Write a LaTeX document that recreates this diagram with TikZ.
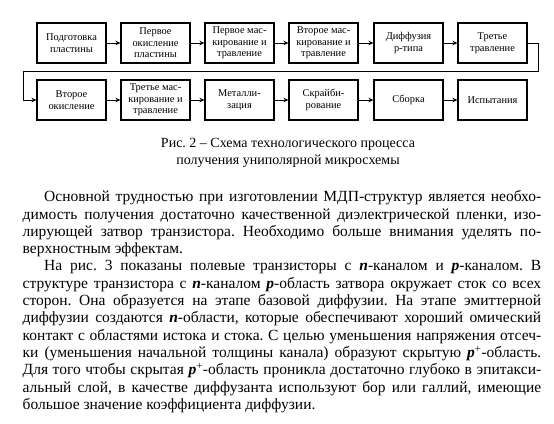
\documentclass[tikz,border=0pt]{standalone}
\usepackage{fontspec}
\setmainfont{Liberation Serif}
\usepackage{tikz}
\usetikzlibrary{arrows.meta}
\frenchspacing
\tikzset{
  stage/.style={draw,line width=1.1pt,minimum width=69pt,minimum height=40pt,
    inner sep=1pt,align=center,font=\fontsize{10.4}{11.5}\selectfont},
  flow/.style={line width=0.9pt,-{Stealth[length=5pt,width=4.5pt]}},
  textline/.style={anchor=base west,inner sep=0pt,font=\fontsize{15.5}{17}\selectfont},
  caption/.style={align=center,inner sep=0pt,font=\fontsize{14}{17.7}\selectfont}
}
\newcommand\fullline[1]{\makebox[518.5pt][s]{#1}}
\newcommand\firstline[1]{\makebox[497pt][s]{#1}}
\newcommand\tvar[1]{\textbf{\textit{#1}}}
\begin{document}
\begin{tikzpicture}[x=1pt,y=-1pt]
\useasboundingbox (0,0) rectangle (554,423);
\node (s1) at (71.5,43) [stage] {Подготовка\\пластины};
\node (s2) at (155.5,43) [stage] {Первое\\окисление\\пластины};
\node (s3) at (239.5,43) [stage] {Первое мас-\\кирование и\\травление};
\node (s4) at (323.5,43) [stage] {Второе мас-\\кирование и\\травление};
\node (s5) at (408.5,43) [stage] {Диффузия\\p-типа};
\node (s6) at (492.5,43) [stage] {Третье\\травление};
\node (s7) at (71.5,100) [stage] {Второе\\окисление};
\node (s8) at (155.5,100) [stage] {Третье мас-\\кирование и\\травление};
\node (s9) at (239.5,100) [stage] {Металли-\\зация};
\node (s10) at (323.5,100) [stage] {Скрайби-\\рование};
\node (s11) at (408.5,100) [stage] {Сборка};
\node (s12) at (492.5,100) [stage] {Испытания};
\coordinate (r1) at (538,71);
\coordinate (r2) at (23,71);
\draw[flow] (s1) -- (s2);
\draw[flow] (s2) -- (s3);
\draw[flow] (s3) -- (s4);
\draw[flow] (s4) -- (s5);
\draw[flow] (s5) -- (s6);
\draw[flow] (s6.east) -| (r1) -- (r2) |- (s7.west);
\draw[flow] (s7) -- (s8);
\draw[flow] (s8) -- (s9);
\draw[flow] (s9) -- (s10);
\draw[flow] (s10) -- (s11);
\draw[flow] (s11) -- (s12);
\node (cap) at (288,153) [caption] {Рис. 2 – Схема технологического процесса\\получения униполярной микросхемы};
\node (l1) at (44,201.7) [textline] {\firstline{Основной трудностью при изготовлении МДП-структур является необхо-}};
\node (l2) at (22.5,219) [textline] {\fullline{димость получения достаточно качественной диэлектрической пленки, изо-}};
\node (l3) at (22.5,236.3) [textline] {\fullline{лирующей затвор транзистора. Необходимо больше внимания уделять по-}};
\node (l4) at (22.5,253.6) [textline] {верхностным эффектам.};
\node (l5) at (44,270.9) [textline] {\firstline{На рис. 3 показаны полевые транзисторы с \tvar{n}-каналом и \tvar{p}-каналом. В}};
\node (l6) at (22.5,288.2) [textline] {\fullline{структуре транзистора с \tvar{n}-каналом \tvar{p}-область затвора окружает сток со всех}};
\node (l7) at (22.5,305.5) [textline] {\fullline{сторон. Она образуется на этапе базовой диффузии. На этапе эмиттерной}};
\node (l8) at (22.5,322.8) [textline] {\fullline{диффузии создаются \tvar{n}-области, которые обеспечивают хороший омический}};
\node (l9) at (22.5,340.1) [textline] {\fullline{контакт с областями истока и стока. С целью уменьшения напряжения отсеч-}};
\node (l10) at (22.5,357.4) [textline] {\fullline{ки (уменьшения начальной толщины канала) образуют скрытую \tvar{p}\textsuperscript{+}-область.}};
\node (l11) at (22.5,374.7) [textline] {\fullline{Для того чтобы скрытая \tvar{p}\textsuperscript{+}-область проникла достаточно глубоко в эпитакси-}};
\node (l12) at (22.5,392) [textline] {\fullline{альный слой, в качестве диффузанта используют бор или галлий, имеющие}};
\node (l13) at (22.5,409.3) [textline] {большое значение коэффициента диффузии.};
\end{tikzpicture}
\end{document}
